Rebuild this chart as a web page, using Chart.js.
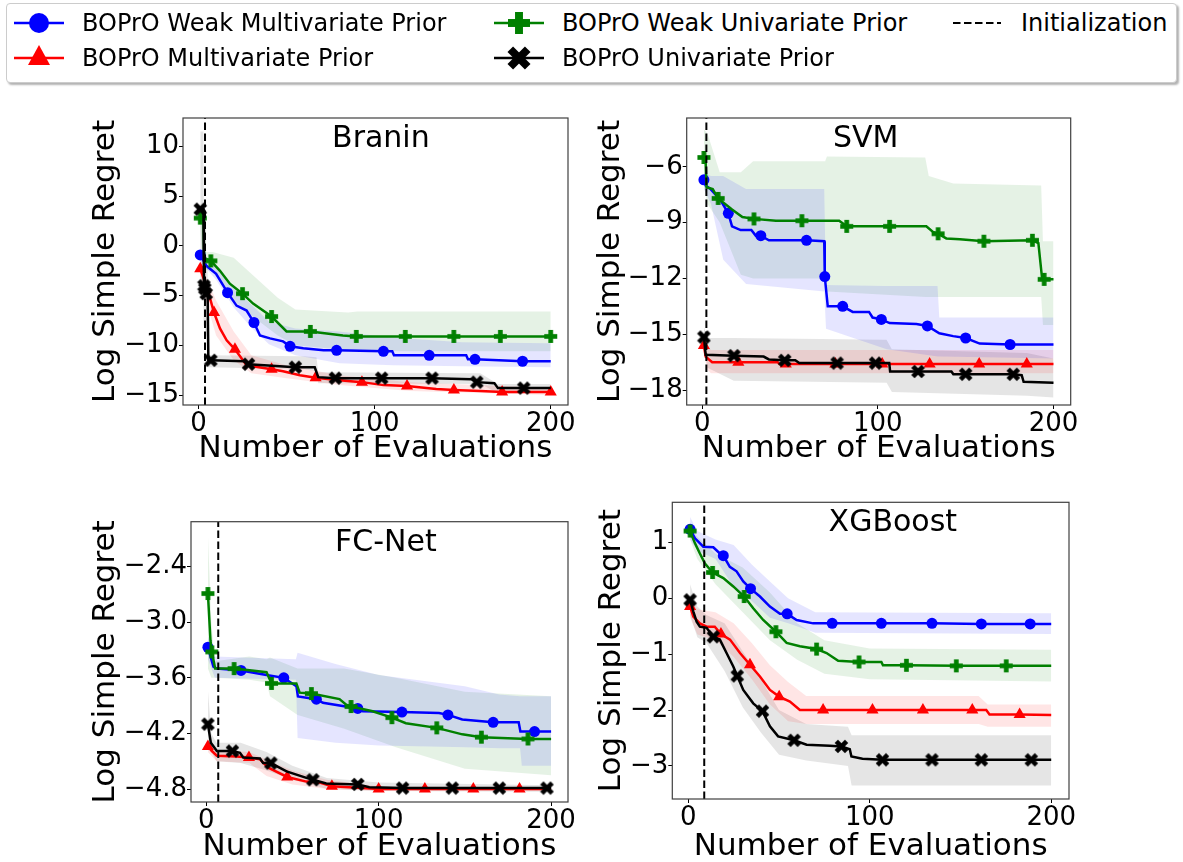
<!DOCTYPE html>
<html>
<head>
<meta charset="utf-8">
<script src="https://cdn.jsdelivr.net/npm/chart.js@4.4.1/dist/chart.umd.min.js"></script>
<style>
  body { margin: 0; background: #fff; width: 1183px; height: 862px; overflow: hidden; position: relative; font-family: 'DejaVu Sans', sans-serif; }
  canvas.panel { position: absolute; }
  #legend { position: absolute; left: 6px; top: 3px; width: 1169px; height: 78px; border: 1px solid #cccccc; border-radius: 4px; background: #fff; box-shadow: 2px 2px 2px rgba(0,0,0,0.3); }
  .entry { position: absolute; height: 36px; display: flex; align-items: center; font-size: 24px; color: #000; white-space: nowrap; }
  .entry span { margin-left: 18px; }
</style>
</head>
<body>
<div id="legend"></div>
<canvas id="branin" class="panel" width="500" height="366" style="left:80px;top:100px"></canvas>
<canvas id="svm" class="panel" width="598" height="366" style="left:585px;top:100px"></canvas>
<canvas id="fcnet" class="panel" width="500" height="382" style="left:80px;top:480px"></canvas>
<canvas id="xgboost" class="panel" width="598" height="382" style="left:585px;top:480px"></canvas>
<script>
// ---- data: mean curves [evaluations, log regret], marker positions, bands [evaluations, low, high]
const evalTicks = [0, 100, 200];
const seriesNames = ['BOPrO Weak Multivariate Prior', 'BOPrO Multivariate Prior', 'BOPrO Weak Univariate Prior', 'BOPrO Univariate Prior'];
const initName = 'Initialization';

// Branin
const braninTicks = [-15, -10, -5, 0, 5, 10];
const braninInit = 3.7;
const braninWeakMulti = [[1,-0.9],[4.5,-2.0],[10,-2.8],[16.5,-4.7],[21.6,-6.0],[27.3,-6.5],[31.5,-7.7],[34.9,-9.0],[40.6,-9.3],[48,-9.6],[52,-10.1],[59.5,-10.3],[71,-10.5],[78.4,-10.5],[105,-10.6],[110,-10.6],[111,-11.0],[131,-11.0],[152,-11.0],[153,-11.4],[157,-11.4],[184,-11.6],[200,-11.6]];
const braninWeakMultiMarks = [1, 16.5, 31.5, 52, 78.4, 105, 131, 157, 184];
const braninWeakMultiBand = [[1,-1.6,-0.3],[10,-3.4,-2.2],[20,-6.2,-4.3],[30,-8.2,-5.9],[40,-9.9,-7.6],[55,-11.0,-8.3],[80,-11.8,-8.6],[110,-12.0,-9.2],[150,-12.1,-9.7],[200,-12.2,-9.8]];
const braninMulti = [[1,-2.3],[5.5,-4.6],[8.8,-6.7],[12.2,-8.3],[16,-9.5],[20.7,-10.4],[24.4,-11.3],[27.3,-12.0],[41.5,-12.4],[48,-12.6],[57.6,-13.0],[66.5,-13.25],[80,-13.5],[92.8,-13.7],[105,-14.0],[118.4,-14.1],[135,-14.4],[145,-14.5],[160,-14.6],[172.4,-14.7],[200,-14.7]];
const braninMultiMarks = [1, 8.8, 20.7, 41.5, 66.5, 92.8, 118.4, 145, 172.4, 200];
const braninMultiBand = [[1,-3.0,-1.6],[5,-6.0,-3.4],[10,-9.0,-5.5],[20,-11.5,-8.6],[30,-12.8,-11.0],[50,-13.3,-12.0],[80,-14.0,-13.0],[120,-14.6,-13.7],[200,-15.0,-14.3]];
const braninWeakUni = [[1,2.8],[2.8,2.6],[3.2,-1.2],[7,-1.5],[12.2,-2.5],[17.8,-3.8],[25,-4.8],[31,-5.8],[41.5,-7.1],[50,-8.6],[63.5,-8.6],[82,-9.0],[89.6,-9.1],[117.4,-9.1],[145,-9.1],[171.4,-9.1],[200,-9.1]];
const braninWeakUniMarks = [1, 7, 25, 41.5, 63.5, 89.6, 117.4, 145, 171.4, 200];
const braninWeakUniBand = [[1,1.5,4.0],[2.8,-2.0,4.0],[3.2,-2.3,-0.6],[8,-2.6,-0.6],[20,-5.5,-1.2],[30,-7.0,-2.8],[45,-9.0,-5.2],[55,-10.0,-6.4],[85,-10.5,-6.7],[90,-10.6,-6.6],[200,-10.6,-6.6]];
const braninUni = [[1,3.7],[2.8,3.7],[3.1,-4.0],[3.6,-4.3],[4.4,-4.8],[5.2,-5.0],[5.6,-11.5],[7,-11.5],[26,-11.6],[28.4,-11.9],[55,-12.2],[66,-12.2],[68,-13.2],[77.7,-13.3],[104,-13.3],[132.6,-13.3],[155,-13.4],[158,-13.7],[168,-13.8],[170,-14.3],[184.7,-14.3],[200,-14.3]];
const braninUniMarks = [1, 3.1, 3.6, 4.4, 7, 28.4, 55, 77.7, 104, 132.6, 158, 184.7];
const braninUniBand = [[1,-4.0,11.5],[2.8,-4.0,11.5],[3.1,-8.0,0.0],[5.2,-9.5,-2.0],[5.6,-12.2,-11.0],[60,-12.4,-11.1],[67,-12.6,-11.2],[68,-13.8,-12.7],[160,-13.9,-12.8],[170,-14.8,-13.9],[200,-14.8,-13.9]];

// SVM
const svmTicks = [-18, -15, -12, -9, -6];
const svmInit = 2.4;
const svmWeakMulti = [[1,-6.7],[2,-7.0],[4.8,-7.2],[10.5,-7.8],[14.9,-8.5],[17,-9.2],[21.9,-9.4],[28,-9.4],[30.5,-9.7],[33.4,-9.7],[38,-9.95],[59.4,-9.95],[69.5,-10.0],[69.8,-11.9],[71.5,-13.5],[80,-13.5],[85.7,-13.8],[95,-13.8],[97,-14.1],[102,-14.2],[106.7,-14.4],[122,-14.45],[128.2,-14.55],[135,-14.95],[142.9,-15.1],[150,-15.2],[158,-15.5],[175.3,-15.55],[200,-15.55]];
const svmWeakMultiMarks = [1, 14.9, 33.4, 59.4, 69.8, 80, 102, 128.2, 150, 175.3];
const svmWeakMultiBand = [[1,-7.2,-6.3],[5,-8.0,-6.5],[12,-11.0,-6.5],[25,-12.3,-7.2],[69.5,-12.7,-7.2],[70.5,-14.7,-12.35],[105,-15.8,-12.4],[134,-16.2,-12.4],[135,-16.2,-14.1],[200,-16.3,-14.1]];
const svmMulti = [[1,-15.6],[2,-16.2],[5.7,-16.5],[20.6,-16.5],[43,-16.5],[44,-16.6],[47.6,-16.6],[75.8,-16.6],[102.5,-16.6],[129.5,-16.6],[157.7,-16.6],[184.8,-16.6],[200,-16.6]];
const svmMultiMarks = [1, 20.6, 47.6, 75.8, 102.5, 129.5, 157.7, 184.8];
const svmMultiBand = [[1,-16.0,-15.2],[3,-16.9,-15.6],[5,-17.1,-15.85],[200,-17.1,-15.85]];
const svmWeakUni = [[1,-5.5],[2,-5.8],[2.5,-7.1],[6,-7.2],[9.1,-7.7],[17,-8.3],[22.9,-8.7],[29.5,-8.8],[42,-8.9],[56.8,-8.9],[78,-8.9],[82.3,-9.2],[106.7,-9.2],[127.6,-9.2],[131.4,-9.5],[134.3,-9.6],[139,-9.85],[146.7,-9.9],[160.4,-10.0],[188,-9.95],[191.4,-10.1],[193.4,-11.9],[194.7,-12.05],[200,-12.05]];
const svmWeakUniMarks = [1, 9.1, 29.5, 56.8, 82.3, 106.7, 134.3, 160.4, 188, 194.7];
const svmWeakUniBand = [[1,-7.0,-4.0],[3,-8.0,-4.2],[10,-9.0,-6.3],[22,-11.8,-6.3],[29,-12.0,-5.7],[70,-12.0,-5.7],[71,-12.7,-5.45],[127,-13.0,-5.5],[129,-13.0,-6.5],[143,-13.0,-6.9],[193,-13.0,-7.0],[194,-14.5,-10.0],[200,-14.5,-10.0]];
const svmUni = [[1,-15.15],[2,-16.1],[18.1,-16.15],[35,-16.2],[38,-16.35],[47,-16.4],[53,-16.4],[55.3,-16.55],[76.8,-16.55],[98.7,-16.55],[106.5,-16.55],[107,-17.0],[122.9,-17.0],[141.9,-17.0],[143,-17.15],[150,-17.15],[177.1,-17.15],[181.9,-17.2],[183,-17.55],[200,-17.6]];
const svmUniMarks = [1, 18.1, 47, 76.8, 98.7, 122.9, 150, 177.1];
const svmUniBand = [[1,-15.6,-14.6],[3,-16.8,-15.2],[18,-17.5,-15.2],[105,-17.6,-15.3],[108,-18.1,-15.8],[185,-18.3,-16.0],[200,-18.4,-16.3]];

// FC-Net
const fcnetTicks = [-4.8, -4.2, -3.6, -3.0, -2.4];
const fcnetInit = 7;
const fcnetWeakMulti = [[1,-3.27],[3,-3.4],[4.2,-3.48],[6.2,-3.5],[20.2,-3.52],[35,-3.57],[45,-3.6],[52.3,-3.69],[53.2,-3.8],[63.9,-3.83],[67.7,-3.87],[87.9,-3.93],[90.8,-3.96],[113.5,-3.97],[135,-3.98],[140.2,-4.0],[148.5,-4.05],[166.4,-4.08],[181.2,-4.08],[182.2,-4.18],[190.4,-4.18],[200,-4.18]];
const fcnetWeakMultiMarks = [1, 20.2, 45, 63.9, 87.9, 113.5, 140.2, 166.4, 190.4];
const fcnetWeakMultiBand = [[1,-3.4,-3.15],[5,-3.6,-3.37],[52,-3.62,-3.4],[53,-4.25,-3.33],[75,-4.3,-3.45],[100,-4.33,-3.57],[150,-4.35,-3.69],[170,-4.36,-3.78],[182,-4.36,-3.8],[183,-4.55,-3.8],[200,-4.55,-3.8]];
const fcnetMulti = [[1,-4.34],[3.3,-4.39],[6.2,-4.44],[17.7,-4.45],[24.8,-4.46],[31.2,-4.48],[36,-4.57],[47,-4.67],[58.1,-4.72],[65.8,-4.73],[72.9,-4.77],[100,-4.8],[126.8,-4.8],[154.9,-4.8],[181.7,-4.8],[200,-4.8]];
const fcnetMultiMarks = [1, 24.8, 47, 72.9, 100, 126.8, 154.9, 181.7];
const fcnetMultiBand = [[1,-4.4,-4.28],[6,-4.5,-4.38],[25,-4.52,-4.4],[35,-4.66,-4.48],[50,-4.75,-4.6],[70,-4.8,-4.7],[100,-4.82,-4.77],[200,-4.82,-4.78]];
const fcnetWeakUni = [[1,-2.69],[2.5,-3.2],[3.3,-3.32],[5.2,-3.5],[16.2,-3.5],[35,-3.54],[37.9,-3.66],[52.3,-3.66],[54.2,-3.76],[61,-3.77],[77.3,-3.83],[81.2,-3.89],[84,-3.91],[96.5,-3.96],[107.7,-4.03],[115.8,-4.09],[133.7,-4.14],[148.5,-4.21],[159.6,-4.24],[186.6,-4.26],[200,-4.26]];
const fcnetWeakUniMarks = [1, 3.3, 16.2, 37.9, 61, 84, 107.7, 133.7, 159.6, 186.6];
const fcnetWeakUniBand = [[1,-3.5,-2.05],[3,-3.6,-3.0],[5,-3.6,-3.42],[25,-3.62,-3.37],[35,-3.65,-3.4],[37,-3.8,-3.38],[53,-4.0,-3.5],[80,-4.15,-3.5],[110,-4.35,-3.6],[150,-4.58,-3.75],[200,-4.65,-3.8]];
const fcnetUni = [[1,-4.1],[2.7,-4.3],[6.2,-4.39],[15.2,-4.39],[19.6,-4.41],[21.5,-4.46],[31.2,-4.47],[33,-4.52],[37.5,-4.52],[46.6,-4.61],[58.1,-4.68],[61.9,-4.7],[69.6,-4.74],[87.9,-4.75],[94.6,-4.78],[113.9,-4.79],[142.7,-4.79],[170,-4.79],[197.6,-4.79],[200,-4.79]];
const fcnetUniMarks = [1, 15.2, 37.5, 61.9, 87.9, 113.9, 142.7, 170, 197.6];
const fcnetUniBand = [[1,-4.3,-3.73],[3,-4.4,-4.2],[6,-4.5,-4.3],[20,-4.52,-4.3],[35,-4.6,-4.4],[50,-4.7,-4.55],[70,-4.8,-4.68],[100,-4.82,-4.73],[200,-4.83,-4.76]];

// XGBoost
const xgboostTicks = [-3, -2, -1, 0, 1];
const xgboostInit = 8.8;
const xgboostWeakMulti = [[1,1.23],[3.7,1.07],[8.3,0.92],[13.8,0.91],[17.4,0.8],[19.3,0.76],[22.9,0.56],[26.6,0.48],[30.3,0.3],[34.3,0.17],[39.5,0.03],[45,-0.15],[50.5,-0.28],[54.5,-0.28],[59.7,-0.39],[68.8,-0.45],[79.3,-0.45],[106.4,-0.45],[134.3,-0.45],[161.5,-0.46],[188.4,-0.46],[200,-0.46]];
const xgboostWeakMultiMarks = [1, 19.3, 34.3, 54.5, 79.3, 106.4, 134.3, 161.5, 188.4];
const xgboostWeakMultiBand = [[1,1.05,1.45],[5,0.85,1.2],[15,0.7,1.05],[25,0.2,0.95],[35,-0.05,0.6],[45,-0.35,0.3],[55,-0.45,0.0],[70,-0.62,-0.25],[200,-0.64,-0.27]];
const xgboostMulti = [[1,-0.15],[2.8,-0.33],[6.4,-0.45],[10.1,-0.51],[14.6,-0.51],[18,-0.64],[23,-0.74],[28.5,-0.98],[34,-1.19],[39.5,-1.4],[45,-1.64],[50.1,-1.76],[56,-1.85],[61.5,-2.0],[74.3,-2.0],[101.5,-2.0],[129.3,-2.0],[156.5,-2.0],[164.2,-2.0],[166,-2.08],[182.6,-2.08],[200,-2.09]];
const xgboostMultiMarks = [1, 18, 34, 50.1, 74.3, 101.5, 129.3, 156.5, 182.6];
const xgboostMultiBand = [[1,-0.35,0.0],[5,-0.65,-0.2],[15,-0.75,-0.25],[25,-1.05,-0.45],[35,-1.45,-0.8],[45,-1.9,-1.2],[55,-2.2,-1.5],[65,-2.25,-1.75],[160,-2.25,-1.75],[165,-2.3,-1.9],[200,-2.3,-1.9]];
const xgboostWeakUni = [[1,1.2],[3.7,0.98],[6.4,0.8],[9.2,0.62],[13.4,0.46],[19.3,0.36],[24.8,0.21],[30.8,0.03],[35.8,-0.18],[41.3,-0.39],[48.3,-0.6],[54.2,-0.8],[61.5,-0.86],[70.7,-0.91],[76.2,-0.98],[82.6,-1.12],[94.1,-1.14],[106.4,-1.14],[107.3,-1.2],[120.2,-1.2],[147.7,-1.21],[175.2,-1.21],[200,-1.21]];
const xgboostWeakUniMarks = [1, 13.4, 30.8, 48.3, 70.7, 94.1, 120.2, 147.7, 175.2];
const xgboostWeakUniBand = [[1,1.05,1.3],[5,0.7,1.1],[15,0.25,0.8],[30,-0.25,0.55],[45,-0.75,0.1],[60,-1.1,-0.45],[75,-1.35,-0.75],[100,-1.45,-0.9],[200,-1.49,-0.92]];
const xgboostUni = [[1,-0.03],[2.8,-0.24],[4.6,-0.42],[6.4,-0.51],[10.1,-0.53],[13.8,-0.69],[17.4,-0.74],[21.1,-0.98],[24.8,-1.22],[27,-1.39],[30.3,-1.64],[35.8,-1.88],[40.9,-2.02],[45,-2.29],[49.5,-2.47],[58.3,-2.54],[65.2,-2.62],[78,-2.64],[84.4,-2.65],[89,-2.7],[89.9,-2.83],[96,-2.87],[107,-2.89],[134.3,-2.89],[161.5,-2.89],[189,-2.89],[200,-2.89]];
const xgboostUniMarks = [1, 13.8, 27, 40.9, 58.3, 84.4, 107, 134.3, 161.5, 189];
const xgboostUniBand = [[1,-0.3,0.25],[5,-0.7,-0.15],[10,-0.8,-0.3],[20,-1.3,-0.45],[30,-1.95,-0.95],[40,-2.4,-1.45],[50,-2.8,-2.0],[65,-2.9,-2.25],[88,-3.0,-2.3],[90,-3.35,-2.45],[200,-3.35,-2.45]];

// ---- styles
Chart.defaults.font.family = "'DejaVu Sans', sans-serif";
const lineColors = ['#0000ff', '#ff0000', '#008000', '#000000'];
const bandColors = ['rgba(0,0,255,0.1)', 'rgba(255,0,0,0.1)', 'rgba(0,128,0,0.1)', 'rgba(0,0,0,0.1)'];
const markerShapes = ['circle', 'triangle', 'plus', 'x'];

// filled plus / filled x marker, like matplotlib's 'P' and 'X'
function markerImage(shape, color, size) {
  const c = document.createElement('canvas');
  c.width = c.height = size + 2;
  const g = c.getContext('2d');
  g.fillStyle = color;
  g.translate(c.width / 2, c.height / 2);
  let arm = size / 2;
  if (shape === 'x') { g.rotate(Math.PI / 4); arm = size * 0.56; }
  const t = size * 0.36;
  g.fillRect(-arm, -t / 2, 2 * arm, t);
  g.fillRect(-t / 2, -arm, t, 2 * arm);
  return c;
}

function pointStyleFor(i) {
  const s = markerShapes[i];
  return (s === 'plus' || s === 'x') ? markerImage(s, lineColors[i], 13) : s;
}
const pointRadii = [5.5, 7, 6, 6];

const minus = s => s.replace('-', '\u2212');

// title inside the axes and the box frame around them
const framePlugin = {
  id: 'frame',
  afterDatasetsDraw(chart, args, opts) {
    const { ctx, chartArea: a } = chart;
    ctx.save();
    ctx.fillStyle = '#000';
    ctx.font = "30px 'DejaVu Sans'";
    ctx.textAlign = 'center';
    ctx.textBaseline = 'alphabetic';
    ctx.fillText(opts.text, a.left + opts.at * (a.right - a.left), a.top + 29);
    ctx.strokeStyle = '#404040';
    ctx.lineWidth = 1.2;
    ctx.strokeRect(a.left, a.top, a.right - a.left, a.bottom - a.top);
    ctx.restore();
  }
};

const panels = [
  { id: 'branin', title: 'Branin', titleAt: 0.514, yMin: -16, yMax: 12.87, ticks: braninTicks, digits: 0, init: braninInit,
    series: [[braninWeakMulti, braninWeakMultiMarks, braninWeakMultiBand], [braninMulti, braninMultiMarks, braninMultiBand],
             [braninWeakUni, braninWeakUniMarks, braninWeakUniBand], [braninUni, braninUniMarks, braninUniBand]],
    box: { yW: 103, xH: 61, top: 18, right: 12, yPad: 7, xPad: -2 } },
  { id: 'svm', title: 'SVM', titleAt: 0.466, yMin: -18.8, yMax: -3.38, ticks: svmTicks, digits: 0, init: svmInit,
    series: [[svmWeakMulti, svmWeakMultiMarks, svmWeakMultiBand], [svmMulti, svmMultiMarks, svmMultiBand],
             [svmWeakUni, svmWeakUniMarks, svmWeakUniBand], [svmUni, svmUniMarks, svmUniBand]],
    box: { yW: 101.7, xH: 61, top: 18, right: 112.3, yPad: 7, xPad: -2 } },
  { id: 'fcnet', title: 'FC-Net', titleAt: 0.517, yMin: -4.94, yMax: -1.915, ticks: fcnetTicks, digits: 1, init: fcnetInit,
    series: [[fcnetWeakMulti, fcnetWeakMultiMarks, fcnetWeakMultiBand], [fcnetMulti, fcnetMultiMarks, fcnetMultiBand],
             [fcnetWeakUni, fcnetWeakUniMarks, fcnetWeakUniBand], [fcnetUni, fcnetUniMarks, fcnetUniBand]],
    box: { yW: 111, xH: 60, top: 41.7, right: 12, yPad: 7, xPad: -4 } },
  { id: 'xgboost', title: 'XGBoost', titleAt: 0.556, yMin: -3.59, yMax: 1.714, ticks: xgboostTicks, digits: 0, init: xgboostInit,
    series: [[xgboostWeakMulti, xgboostWeakMultiMarks, xgboostWeakMultiBand], [xgboostMulti, xgboostMultiMarks, xgboostMultiBand],
             [xgboostWeakUni, xgboostWeakUniMarks, xgboostWeakUniBand], [xgboostUni, xgboostUniMarks, xgboostUniBand]],
    box: { yW: 87.3, xH: 63, top: 22.3, right: 114, yPad: 8, xPad: -4 } }
];

function buildDatasets(p) {
  const sets = [];
  sets.push({
    label: initName,
    data: [{ x: p.init, y: p.yMin }, { x: p.init, y: p.yMax }],
    borderColor: '#000', borderWidth: 2, borderDash: [7.5, 3.5], pointRadius: 0, fill: false, order: 0
  });
  p.series.forEach(([mean, marks], i) => {
    sets.push({
      label: seriesNames[i],
      data: mean.map(([x, y]) => ({ x, y })),
      borderColor: lineColors[i], backgroundColor: lineColors[i], borderWidth: 2.5, fill: false,
      pointStyle: pointStyleFor(i), pointBackgroundColor: lineColors[i], pointBorderColor: lineColors[i], pointBorderWidth: 0,
      pointRadius: ctx => (ctx.raw && marks.includes(ctx.raw.x)) ? pointRadii[i] : 0,
      order: 4 - i
    });
  });
  p.series.forEach(([, , band], i) => {
    sets.push({ data: band.map(([x, lo, hi]) => ({ x, y: hi })), fill: '+1', backgroundColor: bandColors[i],
                borderColor: 'rgba(0,0,0,0)', borderWidth: 0, pointRadius: 0, order: 10 + i });
    sets.push({ data: band.map(([x, lo]) => ({ x, y: lo })), fill: false,
                borderColor: 'rgba(0,0,0,0)', borderWidth: 0, pointRadius: 0, order: 10 + i });
  });
  return sets;
}

panels.forEach(p => {
  new Chart(document.getElementById(p.id), {
    type: 'line',
    data: { datasets: buildDatasets(p) },
    plugins: [framePlugin],
    options: {
      responsive: false,
      animation: false,
      events: [],
      layout: { padding: { left: 0, top: p.box.top, right: p.box.right, bottom: 0 } },
      plugins: {
        legend: { display: false },
        tooltip: { enabled: false },
        frame: { text: p.title, at: p.titleAt }
      },
      scales: {
        x: {
          type: 'linear', min: -8.8, max: 209.8,
          afterBuildTicks: s => { s.ticks = evalTicks.map(v => ({ value: v })); },
          afterFit: s => { s.height = p.box.xH; s.paddingLeft = 0; s.paddingRight = 0; },
          grid: { drawOnChartArea: false, drawTicks: true, tickLength: 4, color: '#000' },
          border: { display: false },
          ticks: { color: '#000', font: { size: 26 }, padding: 0, maxRotation: 0, autoSkip: false },
          title: { display: true, text: 'Number of Evaluations', color: '#000', font: { size: 31 }, padding: { top: 0, bottom: p.box.xPad } }
        },
        y: {
          type: 'linear', min: p.yMin, max: p.yMax,
          afterBuildTicks: s => { s.ticks = p.ticks.map(v => ({ value: v })); },
          afterFit: s => { s.width = p.box.yW; s.paddingTop = 0; s.paddingBottom = 0; },
          grid: { drawOnChartArea: false, drawTicks: true, tickLength: 4, color: '#000' },
          border: { display: false },
          ticks: { color: '#000', font: { size: 26 }, padding: 0, autoSkip: false,
                   callback: v => minus(v.toFixed(p.digits)) },
          title: { display: true, text: 'Log Simple Regret', color: '#000', font: { size: 31 }, padding: { top: p.box.yPad, bottom: 0 } }
        }
      }
    }
  });
});

// ---- shared legend above the panels
const legendEntries = [
  { label: seriesNames[0], i: 0, left: 7, top: 1 },
  { label: seriesNames[1], i: 1, left: 7, top: 36 },
  { label: seriesNames[2], i: 2, left: 487, top: 1 },
  { label: seriesNames[3], i: 3, left: 487, top: 36 },
  { label: initName, i: -1, left: 946, top: 1 }
];

function drawHandle(c, i) {
  const g = c.getContext('2d');
  const color = i < 0 ? '#000' : lineColors[i];
  g.strokeStyle = color;
  g.fillStyle = color;
  g.lineWidth = i < 0 ? 2 : 2.5;
  if (i < 0) g.setLineDash([7.5, 3.5]);
  g.beginPath(); g.moveTo(0, 18); g.lineTo(i < 0 ? 48 : 50, 18); g.stroke();
  g.setLineDash([]);
  const shape = markerShapes[i];
  if (shape === 'circle') {
    g.beginPath(); g.arc(25, 18, 10, 0, 2 * Math.PI); g.fill();
  } else if (shape === 'triangle') {
    g.beginPath(); g.moveTo(25, 5); g.lineTo(36, 25); g.lineTo(14, 25); g.closePath(); g.fill();
  } else if (shape) {
    const m = markerImage(shape, color, 22);
    g.drawImage(m, 25 - m.width / 2, 18 - m.height / 2);
  }
}

const legend = document.getElementById('legend');
legendEntries.forEach(e => {
  const div = document.createElement('div');
  div.className = 'entry';
  div.style.left = e.left + 'px';
  div.style.top = e.top + 'px';
  const c = document.createElement('canvas');
  c.width = 50; c.height = 36;
  drawHandle(c, e.i);
  const span = document.createElement('span');
  span.textContent = e.label;
  div.appendChild(c);
  div.appendChild(span);
  legend.appendChild(div);
});
</script>
</body>
</html>
